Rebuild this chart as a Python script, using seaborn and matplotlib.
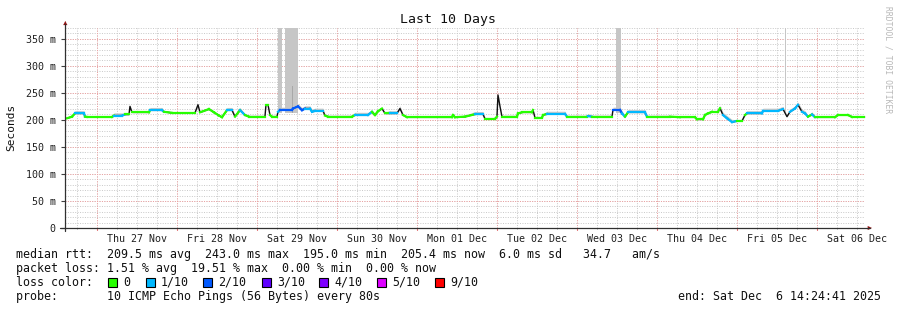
import numpy as np
import pandas as pd
import matplotlib
matplotlib.use("Agg")
import matplotlib.pyplot as plt
import seaborn as sns
from matplotlib.patches import Rectangle

sns.set_theme(style="white")
plt.rcParams['font.family'] = ['DejaVu Sans Mono', 'DejaVu Sans']

# ---------------- data ----------------
START = pd.Timestamp("2025-11-26 14:24:41")
END = pd.Timestamp("2025-12-06 14:24:41")

hours = [0.5, 2.0, 2.9, 5.6, 5.9, 6.5, 14.0, 14.6, 17.0, 17.9, 19.1, 19.4, 20.0, 25.1, 25.4,
         29.0, 29.6, 32.0, 38.9, 39.8, 40.4, 43.1, 44.6, 46.1, 47.0, 48.5, 50.0, 50.9, 52.4,
         53.9, 55.1, 59.9, 60.2, 60.8, 61.4, 62.0, 63.5, 63.8, 64.4, 68.0, 68.3, 69.8, 71.0,
         71.9, 73.4, 74.0, 74.9, 77.3, 77.9, 78.8, 86.0, 86.9, 90.8, 92.0, 92.9, 93.8, 95.0,
         95.9, 97.4, 99.5, 100.4, 101.3, 102.5, 116.0, 116.3, 116.9, 119.9, 122.9, 125.3,
         125.9, 128.9, 129.5, 129.8, 130.4, 131.0, 135.5, 135.8, 137.0, 140.0, 140.3, 140.9,
         143.0, 143.3, 144.5, 149.9, 150.5, 156.5, 156.8, 158.0, 164.0, 164.3, 166.4, 167.0,
         167.9, 168.8, 173.9, 174.5, 181.4, 184.4, 188.9, 189.5, 191.3, 191.9, 192.8, 194.0,
         195.8, 196.4, 197.3, 198.5, 200.0, 201.5, 203.0, 203.9, 204.5, 209.0, 209.3, 213.8,
         215.3, 216.5, 217.4, 218.9, 219.8, 221.0, 221.9, 222.8, 224.0, 224.9, 230.9, 231.8,
         234.8, 236.0, 239.9]
median_ms = [203, 206, 212, 212, 206, 205.5, 205.5, 208, 208, 210, 210, 225, 214, 214, 218,
             218, 215, 213, 213, 228, 214, 220, 214, 208, 205, 218, 218, 206, 218,
             209, 206, 206, 228, 228, 209, 206, 206, 215, 218.5, 218.5, 221, 225, 218,
             221, 221, 215, 216.7, 216.7, 208, 206, 206, 209, 209, 215, 209, 216, 221,
             212, 212, 212, 221, 209, 205, 205, 209, 205, 206, 210.5, 210.5,
             202, 202, 206, 246, 225, 206, 206, 212, 214, 214, 218.5, 204,
             204, 209, 211, 211, 206, 206, 207, 206, 206, 218.5, 218.5, 212,
             206, 214, 214, 206, 206, 205, 205, 201, 201, 209, 212, 215,
             215, 221.6, 209, 203, 196, 198, 198, 209, 212, 212, 216.7, 216.7,
             220, 206, 215, 221, 228, 215, 212, 206, 210, 205, 205, 209,
             209, 205.5, 205.5]
loss_level = [0, 0, 1, 1, 0, 0, 0, 1, 1, 0, 0, 0, 0, 0, 1,
              1, 0, 0, 0, 0, 0, 0, 0, 0, 0, 1, 1, 0, 1,
              0, 0, 0, 0, 0, 0, 0, 0, 1, 2, 2, 2, 2, 2,
              1, 1, 1, 1, 1, 0, 0, 0, 1, 1, 0, 0, 0, 0,
              0, 1, 1, 1, 0, 0, 0, 0, 0, 0, 1, 1,
              0, 0, 0, 1, 0, 0, 0, 0, 0, 0, 0, 0,
              0, 0, 1, 1, 0, 0, 1, 0, 0, 2, 2, 1,
              0, 1, 1, 0, 0, 0, 0, 0, 0, 0, 0, 0,
              0, 1, 1, 1, 1, 0, 0, 0, 1, 1, 1, 1,
              1, 0, 1, 1, 2, 1, 1, 0, 1, 0, 0, 0,
              0, 0, 0]

# tall smoke (spread of pings) bursts
spike_start_h = [63.7, 65.9, 71.8, 68.0, 143.8, 145.9, 165.2, 215.9]
spike_end_h = [65.1, 69.7, 72.0, 68.4, 144.0, 146.1, 166.7, 216.1]
spike_top_ms = [372, 372, 372, 262, 244, 254, 372, 372]

loss_labels = ['0', '1/10', '2/10', '3/10', '4/10', '5/10', '9/10']
loss_colors = ['#26ff00', '#00b8ff', '#0059ff', '#5e00ff', '#7e00ff', '#dd00ff', '#ff0000']
day_labels = ['Thu 27 Nov', 'Fri 28 Nov', 'Sat 29 Nov', 'Sun 30 Nov', 'Mon 01 Dec',
              'Tue 02 Dec', 'Wed 03 Dec', 'Thu 04 Dec', 'Fri 05 Dec', 'Sat 06 Dec']
ytick_values = [0, 50, 100, 150, 200, 250, 300, 350]
ytick_labels = ['0', '50 m', '100 m', '150 m', '200 m', '250 m', '300 m', '350 m']

stat_rtt = "median rtt:  209.5 ms avg  243.0 ms max  195.0 ms min  205.4 ms now  6.0 ms sd   34.7   am/s"
stat_loss = "packet loss: 1.51 % avg  19.51 % max  0.00 % min  0.00 % now"
probe_text = "probe:       10 ICMP Echo Pings (56 Bytes) every 80s"
end_text = "end: Sat Dec  6 14:24:41 2025"

# ---------------- figure ----------------
W, H = 897, 310
fig = plt.figure(figsize=(W / 100, H / 100), dpi=100)
fig.patch.set_facecolor('white')
ax = fig.add_axes([65.3 / W, (H - 228) / H, 800 / W, 200 / H])
ax.set_facecolor('white')
total_h = (END - START) / pd.Timedelta(hours=1)
ax.set_xlim(0, total_h)
ax.set_ylim(0, 370)
for s in ax.spines.values():
    s.set_visible(False)

first_mid = ((START.normalize() + pd.Timedelta(days=1)) - START) / pd.Timedelta(hours=1)

# grid
minor_x = np.arange(first_mid - 18, total_h, 6)
major_x = np.arange(first_mid, total_h, 24)
for xv in minor_x:
    if xv > 0:
        ax.axvline(xv, color='#c8c8c8', lw=0.7, ls=(0, (1, 1.5)), zorder=0)
for yv in range(10, 371, 10):
    ax.axhline(yv, color='#c8c8c8', lw=0.7, ls=(0, (1, 1.5)), zorder=0)
for xv in major_x:
    ax.axvline(xv, color='#f0a0a0', lw=0.7, ls=(0, (1, 1.5)), zorder=0.5)
for yv in ytick_values[1:]:
    ax.axhline(yv, color='#f0a0a0', lw=0.7, ls=(0, (1, 1.5)), zorder=0.5)

# smoke
df = pd.DataFrame({'hours': hours, 'median': median_ms, 'loss': loss_level})
upper = df['median'] + np.where(df['loss'] > 0, 5, 2.5)
lower = df['median'] - 1.0
ax.fill_between(df['hours'], lower, upper, color='#c8c8c8', lw=0, zorder=1)
for s0, s1, top in zip(spike_start_h, spike_end_h, spike_top_ms):
    ax.bar(s0, top - 212, bottom=212, width=s1 - s0, align='edge',
           color='#c6c6c6' if top > 300 else '#a8a8a8', lw=0, zorder=1)

# median line: thin dark underlay, then loss-coloured segments
sns.lineplot(data=df, x='hours', y='median', estimator=None, sort=False,
             color='#101010', lw=1.0, ax=ax, zorder=2)
for i in range(len(df) - 1):
    m0, m1 = median_ms[i], median_ms[i + 1]
    dt = hours[i + 1] - hours[i]
    if abs(m1 - m0) > 8 and dt < 1.5:
        continue
    ax.plot([hours[i], hours[i + 1]], [m0, m1], color=loss_colors[loss_level[i]],
            lw=1.6, solid_capstyle='projecting', zorder=3)

ax.set_xlabel('')
ax.set_ylabel('')

# ticks
ax.set_yticks(ytick_values)
ax.set_yticklabels(ytick_labels, fontsize=7.2, color='#202020')
ax.tick_params(axis='y', length=3, width=0.8, color='#404040', pad=4, left=True)
noon = first_mid + 12 + 24 * np.arange(len(day_labels))
ax.set_xticks(noon)
ax.set_xticklabels(day_labels, fontsize=7.2, color='#202020')
ax.tick_params(axis='x', length=0, pad=4)
for xv in major_x:
    ax.plot([xv, xv], [0, -4], color='#e07070', lw=0.8, clip_on=False, zorder=4)
for xv in minor_x:
    if xv > 0 and xv not in major_x:
        ax.plot([xv, xv], [0, -2.5], color='#b0b0b0', lw=0.6, clip_on=False, zorder=4)

# axes with arrows
ax.plot([0, 0], [-6, 378], color='#303030', lw=0.9, clip_on=False, zorder=5)
ax.plot([-1.5, total_h + 1.5], [0, 0], color='#303030', lw=0.9, clip_on=False, zorder=5)
ax.annotate('', xy=(0, 383), xytext=(0, 375), xycoords='data',
            arrowprops=dict(arrowstyle='-|>', color='#901010', lw=0.1, mutation_scale=7),
            annotation_clip=False)
ax.annotate('', xy=(total_h + 2.8, 0), xytext=(total_h + 0.5, 0), xycoords='data',
            arrowprops=dict(arrowstyle='-|>', color='#901010', lw=0.1, mutation_scale=7),
            annotation_clip=False)

# texts
fig.text(448 / W, 1 - 19 / H, 'Last 10 Days', ha='center', va='center', fontsize=9.5, color='#101010')
fig.text(11 / W, 1 - 127 / H, 'Seconds', ha='center', va='center', rotation=90, fontsize=8, color='#101010')
fig.text(888 / W, 1 - 60 / H, 'RRDTOOL / TOBI OETIKER', ha='center', va='center', rotation=270,
         fontsize=5.8, color='#b8b8b8')

fs = 8.4
def ftxt(x, y, s, **kw):
    fig.text(x / W, 1 - y / H, s, ha='left', va='center', fontsize=fs, color='#101010', **kw)

y1, y2, y3, y4 = 254.3, 268.3, 282.3, 296.2
ftxt(16, y1, stat_rtt)
ftxt(16, y2, stat_loss)
ftxt(16, y3, 'loss color:')
sq_x = [108, 146, 203, 262, 319, 377, 435]
for sx, lab, col in zip(sq_x, loss_labels, loss_colors):
    fig.patches.append(Rectangle((sx / W, 1 - (y3 + 4.5) / H), 9 / W, 9 / H,
                                 transform=fig.transFigure, facecolor=col,
                                 edgecolor='#000000', lw=0.8))
    ftxt(sx + 15, y3, lab)
ftxt(16, y4, probe_text)
ftxt(678, y4, end_text)

fig.savefig('out.png', dpi=100, facecolor='white')
